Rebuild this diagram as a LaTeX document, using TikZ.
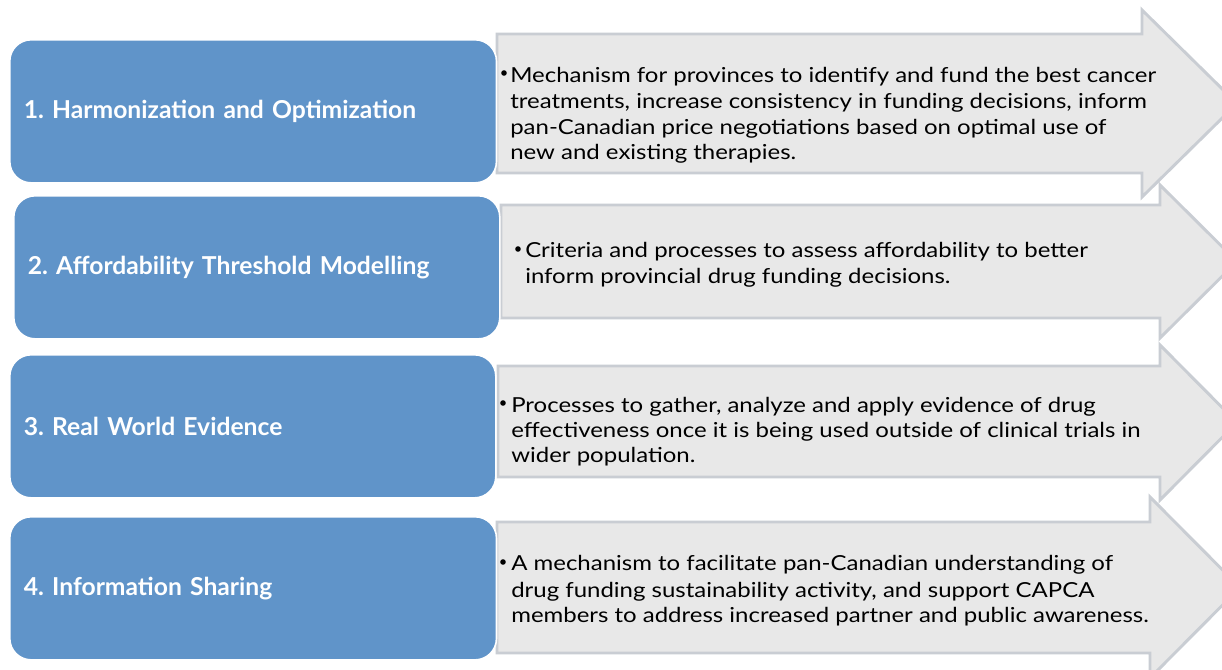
\documentclass[tikz,border=0pt]{standalone}
\usepackage{fontspec}
\setmainfont{Lato}
\newfontfamily\itemfont{Lato}[FakeStretch=1.16]
\frenchspacing
\definecolor{stageblue}{RGB}{96,148,201}
\definecolor{arrowfill}{RGB}{232,232,232}
\definecolor{arrowline}{RGB}{201,205,211}
\begin{document}
\begin{tikzpicture}[x=0.75pt,y=-0.75pt,
  stagebox/.style={draw=white, line width=1.2pt, fill=stageblue, rounded corners=16pt,
    anchor=north west, inner xsep=10.5pt, inner ysep=0pt, align=left,
    text=white, font=\fontsize{18.5}{21}\selectfont\bfseries},
  arrowbody/.style={fill=arrowfill, draw=arrowline, line width=2.2pt, line join=miter},
  itemline/.style={anchor=base west, inner sep=0pt, font=\itemfont\fontsize{15.5}{19}\selectfont},
  bulletdot/.style={circle, fill=black, inner sep=0pt, minimum size=4.2pt}
]
\useasboundingbox (0,0) rectangle (1222,670);
\clip (0,0) rectangle (1222,670);
\fill[white] (0,0) rectangle (1222,670);

% arrow-shaped description panels
\draw[arrowbody] (497,34) -- (1142,34) -- (1142,10) -- (1237,103.5) -- (1142,197) -- (1142,173) -- (497,173) -- cycle;
\draw[arrowbody] (501,205) -- (1160,205) -- (1160,185) -- (1237,261.5) -- (1160,338) -- (1160,318) -- (501,318) -- cycle;
\draw[arrowbody] (498,366) -- (1160,366) -- (1160,345) -- (1237,422.5) -- (1160,500) -- (1160,477) -- (498,477) -- cycle;
\draw[arrowbody] (497,522) -- (1150,522) -- (1150,497) -- (1240,587.5) -- (1150,678) -- (1150,653) -- (497,653) -- cycle;

% stage boxes
\node[stagebox, minimum width=365pt, minimum height=107.3pt, text width=344pt] (s1) at (9,39) {1. Harmonization and Optimization};
\node[stagebox, minimum width=364.5pt, minimum height=107.3pt, text width=343.5pt] (s2) at (13,195) {2. Affordability Threshold Modelling};
\node[stagebox, minimum width=364.5pt, minimum height=107.3pt, text width=343.5pt] (s3) at (9,354) {3. Real World Evidence};
\node[stagebox, minimum width=365pt, minimum height=107.3pt, text width=344pt] (s4) at (9,516) {4. Information Sharing};

% bullet text, stage 1
\node[bulletdot] (b1) at (504,73) {};
\node[itemline] (t1a) at (510,83) {Mechanism for provinces to identify and fund the best cancer};
\node[itemline] (t1b) at (510,109) {treatments, increase consistency in funding decisions, inform};
\node[itemline] (t1c) at (510,135) {pan-Canadian price negotiations based on optimal use of};
\node[itemline] (t1d) at (510,160) {new and existing therapies.};

% bullet text, stage 2
\node[bulletdot] (b2) at (518,249) {};
\node[itemline] (t2a) at (525,258) {Criteria and processes to assess affordability to better};
\node[itemline] (t2b) at (525,284) {inform provincial drug funding decisions.};

% bullet text, stage 3
\node[bulletdot] (b3) at (503,403) {};
\node[itemline] (t3a) at (511,412) {Processes to gather, analyze and apply evidence of drug};
\node[itemline] (t3b) at (511,438) {effectiveness once it is being used outside of clinical trials in};
\node[itemline] (t3c) at (511,463) {wider population.};

% bullet text, stage 4
\node[bulletdot] (b4) at (503,562) {};
\node[itemline] (t4a) at (511,570) {A mechanism to facilitate pan-Canadian understanding of};
\node[itemline] (t4b) at (511,597) {drug funding sustainability activity, and support CAPCA};
\node[itemline] (t4c) at (511,622) {members to address increased partner and public awareness.};
\end{tikzpicture}
\end{document}
